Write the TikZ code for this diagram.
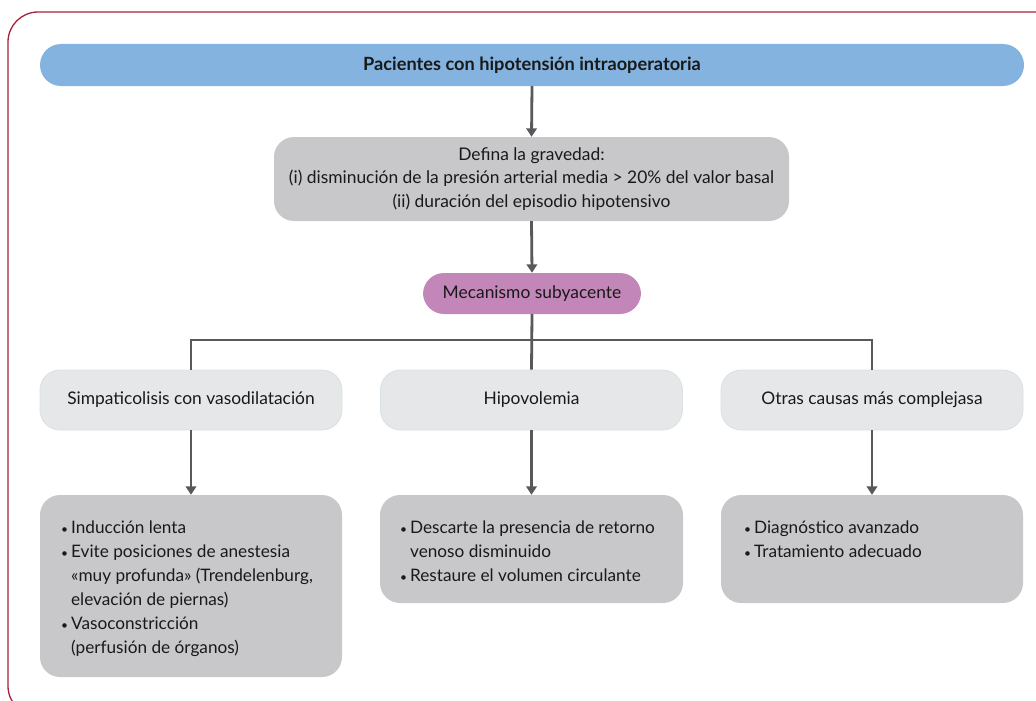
\documentclass[tikz,border=0pt]{standalone}
\usepackage{fontspec}
\setmainfont{Lato}
\usetikzlibrary{arrows.meta}
\definecolor{frameRed}{RGB}{168,32,60}
\definecolor{barBlue}{RGB}{133,179,223}
\definecolor{boxGrey}{RGB}{200,200,202}
\definecolor{rowGrey}{RGB}{230,231,232}
\definecolor{rowEdge}{RGB}{214,226,228}
\definecolor{mechPurple}{RGB}{195,134,184}
\definecolor{linkGrey}{RGB}{88,89,91}
\tikzset{
  txt/.style={font=\fontsize{17.4}{23.7}\selectfont, text=black!90},
  pill/.style={rounded corners=21pt, inner sep=0pt, txt},
  greybox/.style={fill=boxGrey, rounded corners=20pt, inner sep=0pt},
  rowbox/.style={fill=rowGrey, draw=rowEdge, line width=0.8pt, rounded corners=20pt,
    minimum width=302pt, minimum height=60pt, inner sep=0pt, txt},
  link/.style={draw=linkGrey, line width=2.8pt},
  arr/.style={link, -{Triangle[width=10.5pt,length=8.5pt]}},
  listtext/.style={txt, font=\fontsize{17.2}{24}\selectfont, align=left, inner sep=0pt, anchor=north west}
}
\newcommand{\bul}{{\fontsize{12}{12}\selectfont•}\hspace{3pt}}
\newcommand{\ind}{\phantom{\bul}}
\begin{document}
\begin{tikzpicture}[x=1pt,y=-1pt]
\useasboundingbox (0,0) rectangle (1036,701);
% outer frame, running past the right and bottom edges
\begin{scope}
\clip (0,0) rectangle (1036,701);
\draw[frameRed, line width=1.3pt, rounded corners=30pt] (8,12) rectangle (1080,716);
\end{scope}

% header bar
\node[pill, fill=barBlue, minimum width=984pt, minimum height=42pt,
      font=\fontsize{18.2}{22}\selectfont\bfseries] (bar) at (532,65)
  {Pacientes con hipotensión intraoperatoria};

% severity box
\node[greybox, minimum width=515pt, minimum height=84pt, txt, align=center] (sev) at (531.5,179)
  {Defina la gravedad:\\(i) disminución de la presión arterial media > 20\% del valor basal\\(ii) duración del episodio hipotensivo};

% mechanism pill
\node[pill, fill=mechPurple, minimum width=218pt, minimum height=41pt] (mech) at (532,293.5)
  {Mecanismo subyacente};

% three causes
\node[rowbox] (c1) at (191,400) {Simpaticolisis con vasodilatación};
\node[rowbox] (c2) at (531.5,400) {Hipovolemia};
\node[rowbox] (c3) at (872,400) {Otras causas más complejasa};

% action boxes
\node[greybox, minimum width=302pt, minimum height=182pt] (a1) at (191,586) {};
\node[greybox, minimum width=303pt, minimum height=108pt] (a2) at (531.5,549) {};
\node[greybox, minimum width=302pt, minimum height=108pt] (a3) at (872,549) {};

\node[listtext] (t1) at (61,521)
  {\bul Inducción lenta\\
   \bul Evite posiciones de anestesia\\
   \ind«muy profunda» (Trendelenburg,\\
   \ind elevación de piernas)\\
   \bul Vasoconstricción\\
   \ind(perfusión de órganos)};
\node[listtext] (t2) at (400,521)
  {\bul Descarte la presencia de retorno\\
   \ind venoso disminuido\\
   \bul Restaure el volumen circulante};
\node[listtext] (t3) at (744,521)
  {\bul Diagnóstico avanzado\\
   \bul Tratamiento adecuado};

% connectors
\draw[arr] (bar.south) -- (sev.north);
\draw[arr] (sev.south) -- (mech.north);
\coordinate (j) at (532,340);
\draw[link] (mech.south) -- (c2.north);
\draw[link] (c1.north) |- (j) -| (c3.north);
\draw[arr] (c1.south) -- (a1.north);
\draw[arr] (c2.south) -- (a2.north);
\draw[arr] (c3.south) -- (a3.north);
\end{tikzpicture}
\end{document}
